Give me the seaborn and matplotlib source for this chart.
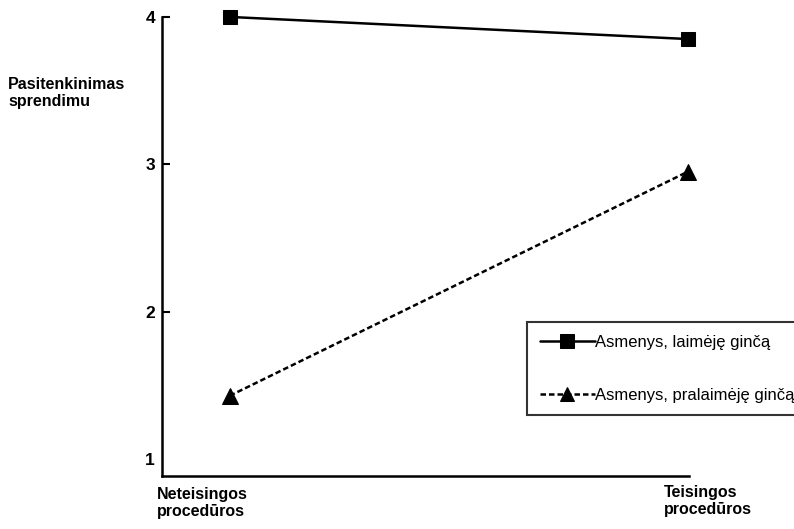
import pandas as pd
import matplotlib.pyplot as plt
import seaborn as sns

# duomenys nuskaityti nuo paveikslo
procedures = ["Neteisingos\nprocedūros", "Teisingos\nprocedūros"]
groups = ["Asmenys, laimėję ginčą", "Asmenys, pralaimėję ginčą"]
won_values = [4.0, 3.85]
lost_values = [1.43, 2.95]
y_ticks = [1, 2, 3, 4]

df = pd.DataFrame({
    "procedura": procedures * 2,
    "grupe": [groups[0]] * 2 + [groups[1]] * 2,
    "pasitenkinimas": won_values + lost_values,
})

sns.set_style("ticks")
plt.rcParams["font.family"] = ["Liberation Sans", "DejaVu Sans"]
plt.rcParams["text.color"] = "black"
plt.rcParams["ytick.color"] = "black"

fig = plt.figure(figsize=(7.94, 5.29), dpi=100)
ax = fig.add_axes([0.204, 0.100, 0.664, 0.868])

sns.lineplot(
    data=df, x="procedura", y="pasitenkinimas", style="grupe",
    markers=["s", "^"], dashes=["", (2.2, 1.2)], color="black",
    linewidth=1.8, markersize=10, markeredgecolor="black", ax=ax,
)
# trikampis šiek tiek didesnis, žymekliai neapkerpami
ax.lines[1].set_markersize(12)
for ln in ax.lines:
    ln.set_clip_on(False)

ax.set_xlim(-0.148, 1.003)
ax.set_ylim(0.885, 4.0)
ax.set_yticks(y_ticks)
ax.set_yticklabels([str(t) for t in y_ticks], fontsize=12.5, fontweight="bold")
ax.tick_params(axis="y", direction="in", length=6, width=1.5, pad=5,
               colors="black")
ax.yaxis.get_major_ticks()[0].tick1line.set_visible(False)
ax.set_xticks([])
ax.set_xlabel("")
ax.set_ylabel("")

sns.despine(ax=ax)
for s in ["left", "bottom"]:
    ax.spines[s].set_linewidth(1.8)
    ax.spines[s].set_color("black")

# y ašies pavadinimas
fig.text(8 / 794, 1 - 77 / 529, "Pasitenkinimas\nsprendimu", fontsize=11.5,
         fontweight="bold", ha="left", va="top", linespacing=1.15)

# x kategorijų užrašai
fig.text(157 / 794, 1 - 487 / 529, procedures[0], fontsize=11.5,
         fontweight="bold", ha="left", va="top", linespacing=1.2)
fig.text(664 / 794, 1 - 485 / 529, procedures[1], fontsize=11.5,
         fontweight="bold", ha="left", va="top", linespacing=1.2)

leg = ax.legend(
    loc="upper left", bbox_to_anchor=(527 / 794, 1 - 322 / 529),
    bbox_transform=fig.transFigure, frameon=True, fancybox=False,
    edgecolor="black", fontsize=12, handlelength=3.3, handletextpad=0.05,
    labelspacing=2.3, borderpad=0.75, borderaxespad=0,
)
leg.get_frame().set_linewidth(1.5)
for t in leg.get_texts():
    t.set_color("black")

fig.savefig("out.png", dpi=100)
